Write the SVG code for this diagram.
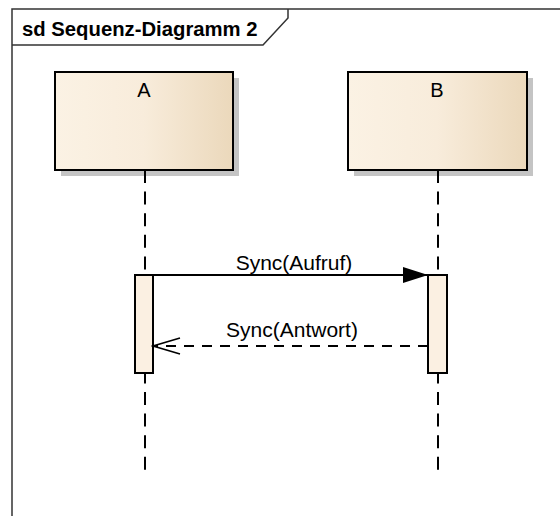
<svg xmlns="http://www.w3.org/2000/svg" width="560" height="516" viewBox="0 0 560 516">
  <defs>
    <linearGradient id="lifelineFill" x1="0" y1="0" x2="1" y2="0">
      <stop offset="0" stop-color="#FBF2E4"/>
      <stop offset="0.5" stop-color="#F8ECDB"/>
      <stop offset="1" stop-color="#EBD8BB"/>
    </linearGradient>
    <marker id="syncHead" markerWidth="26" markerHeight="18" refX="25" refY="8" orient="auto" markerUnits="userSpaceOnUse">
      <path d="M0,0 L25,8 L0,16 Z" fill="#000"/>
    </marker>
    <marker id="replyHead" markerWidth="30" markerHeight="20" refX="28" refY="9" orient="auto" markerUnits="userSpaceOnUse">
      <path d="M1,1 L28,9 L1,17" fill="none" stroke="#000" stroke-width="1.6"/>
    </marker>
  </defs>
  <style>
    .frame { fill: none; stroke: #333; stroke-width: 1.5; }
    .title { font-family: "Liberation Sans", Arial, sans-serif; font-size: 20.3px; font-weight: bold; fill: #000; }
    .head { fill: url(#lifelineFill); stroke: #000; stroke-width: 2; }
    .shadow { fill: #C4C4C4; }
    .name { font-family: "Liberation Sans", Arial, sans-serif; font-size: 20px; fill: #000; text-anchor: middle; }
    .life { stroke: #000; stroke-width: 2; stroke-dasharray: 13 8.6; fill: none; }
    .act { fill: #FBF0E2; stroke: #000; stroke-width: 2; }
    .msg { stroke: #000; stroke-width: 1.8; fill: none; }
    .reply { stroke-dasharray: 10 8; }
    .label { font-family: "Liberation Sans", Arial, sans-serif; font-size: 21px; fill: #000; text-anchor: middle; }
  </style>

  <rect width="560" height="516" fill="#fff"/>

  <!-- diagram frame with name tab -->
  <g id="frame">
    <path class="frame" d="M12,516 V9 H560"/>
    <path class="frame" d="M12,45 H263 L288,18 V9"/>
    <text class="title" x="22" y="36">sd Sequenz-Diagramm 2</text>
  </g>

  <!-- lifeline A -->
  <g id="lifeline-A">
    <rect class="shadow" x="61" y="78" width="178" height="98"/>
    <rect class="head" x="55" y="72" width="178" height="98"/>
    <text class="name" x="144" y="97">A</text>
    <line class="life" x1="145" y1="170" x2="145" y2="275"/>
    <line class="life" x1="145" y1="370.4" x2="145" y2="471"/>
    <rect class="act" x="135" y="275" width="18" height="98"/>
  </g>

  <!-- lifeline B -->
  <g id="lifeline-B">
    <rect class="shadow" x="354" y="78" width="179" height="98"/>
    <rect class="head" x="348" y="72" width="179" height="98"/>
    <text class="name" x="437" y="97">B</text>
    <line class="life" x1="438" y1="170" x2="438" y2="275"/>
    <line class="life" x1="438" y1="370.4" x2="438" y2="471"/>
    <rect class="act" x="428" y="275" width="19" height="98"/>
  </g>

  <!-- messages -->
  <g id="messages">
    <line class="msg" x1="153" y1="275" x2="428" y2="275" marker-end="url(#syncHead)"/>
    <text class="label" x="294" y="270">Sync(Aufruf)</text>
    <line class="msg reply" x1="428" y1="346" x2="153" y2="346" marker-end="url(#replyHead)"/>
    <text class="label" x="292" y="337">Sync(Antwort)</text>
  </g>
</svg>
